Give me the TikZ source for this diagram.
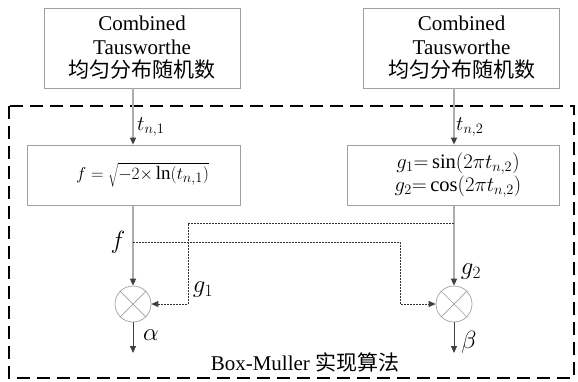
\documentclass[tikz,border=0pt]{standalone}
\usepackage{fontspec}
\setmainfont{Liberation Serif}
\newfontfamily\cjk{Noto Sans CJK SC}
\usetikzlibrary{arrows.meta}
\begin{document}
\begin{tikzpicture}[x=1pt,y=-1pt,
  srcbox/.style={draw=gray!75, line width=0.7pt, minimum width=196pt, minimum height=80pt, align=center, inner sep=0pt, font=\fontsize{21}{23.5}\selectfont},
  calcbox/.style={draw=gray!75, line width=0.7pt, minimum height=60pt, align=center, inner sep=0pt, font=\fontsize{19}{22}\selectfont},
  multnode/.style={circle, draw=gray!75, line width=0.7pt, minimum size=36pt, inner sep=0pt},
  flowline/.style={draw=gray!65, line width=1.4pt, -{Triangle[length=7pt,width=6pt,color=black!75]}},
  outline/.style={draw=black!75, line width=0.8pt, -{Triangle[length=7pt,width=6pt,color=black!75]}},
  dotline/.style={draw=black!80, line width=0.8pt, dash pattern=on 2pt off 1pt, -{Triangle[length=7pt,width=6pt,color=black!75]}},
  lbl/.style={inner sep=0pt, font=\fontsize{23}{26}\selectfont},
  sublbl/.style={inner sep=0pt, font=\fontsize{21}{24}\selectfont}
]
\useasboundingbox (0,0) rectangle (578,381);
% outer dashed frame
\draw[black, line width=1.7pt, dash pattern=on 13pt off 7pt] (9,106) rectangle (574,378);
\node[inner sep=0pt, font=\fontsize{21}{24}\selectfont] (frame) at (305,362) {Box-Muller {\cjk 实现算法}};

% sources
\node[srcbox] (s1) at (142,48) {Combined\\Tausworthe\\{\cjk 均匀分布随机数}};
\node[srcbox] (s2) at (461.5,48) {Combined\\Tausworthe\\{\cjk 均匀分布随机数}};

% computation boxes
\node[calcbox, minimum width=213pt] (c1) at (133.5,175) {\hspace*{18pt}$f=\sqrt{-2{\times}\ln(t_{n,1})}$};
\node[calcbox, minimum width=212pt, font=\fontsize{20.5}{23}\selectfont] (c2) at (453,175) {\hspace*{10pt}$g_1{=}\sin(2\pi t_{n,2})$\\\hspace*{10pt}$g_2{=}\cos(2\pi t_{n,2})$};

% multipliers
\node[multnode] (m1) at (133,304) {};
\node[multnode] (m2) at (454,304) {};
\draw[gray!75, line width=0.7pt] (m1.north east) -- (m1.south west) (m1.north west) -- (m1.south east);
\draw[gray!75, line width=0.7pt] (m2.north east) -- (m2.south west) (m2.north west) -- (m2.south east);

% input arrows
\draw[flowline] (s1.south -| m1) -- (c1.north -| m1);
\draw[flowline] (s2.south -| m2) -- (c2.north -| m2);
\draw[flowline] (c1.south -| m1) -- (m1.north);
\draw[flowline] (c2.south -| m2) -- (m2.north);

% cross connections
\coordinate (fA) at (133,242);
\coordinate (gB) at (454,223);
\draw[dotline] (fA) -- (400,242) -- (400,304) -- (m2.west);
\draw[dotline] (gB) -- (188,223) -- (188,304) -- (m1.east);

% outputs
\coordinate (o1) at (133,353);
\coordinate (o2) at (454,353);
\draw[outline] (m1.south) -- (o1);
\draw[outline] (m2.south) -- (o2);

% labels
\node[sublbl, anchor=west] (lt1) at (137,127) {$t_{n,1}$};
\node[sublbl, anchor=west] (lt2) at (456,127) {$t_{n,2}$};
\node[lbl] (lf) at (118,242) {$f$};
\node[lbl] (lg1) at (203,290) {$g_1$};
\node[lbl] (lg2) at (471,272) {$g_2$};
\node[lbl] (la) at (151,335) {$\alpha$};
\node[lbl] (lb) at (469,342) {$\beta$};
\end{tikzpicture}
\end{document}
